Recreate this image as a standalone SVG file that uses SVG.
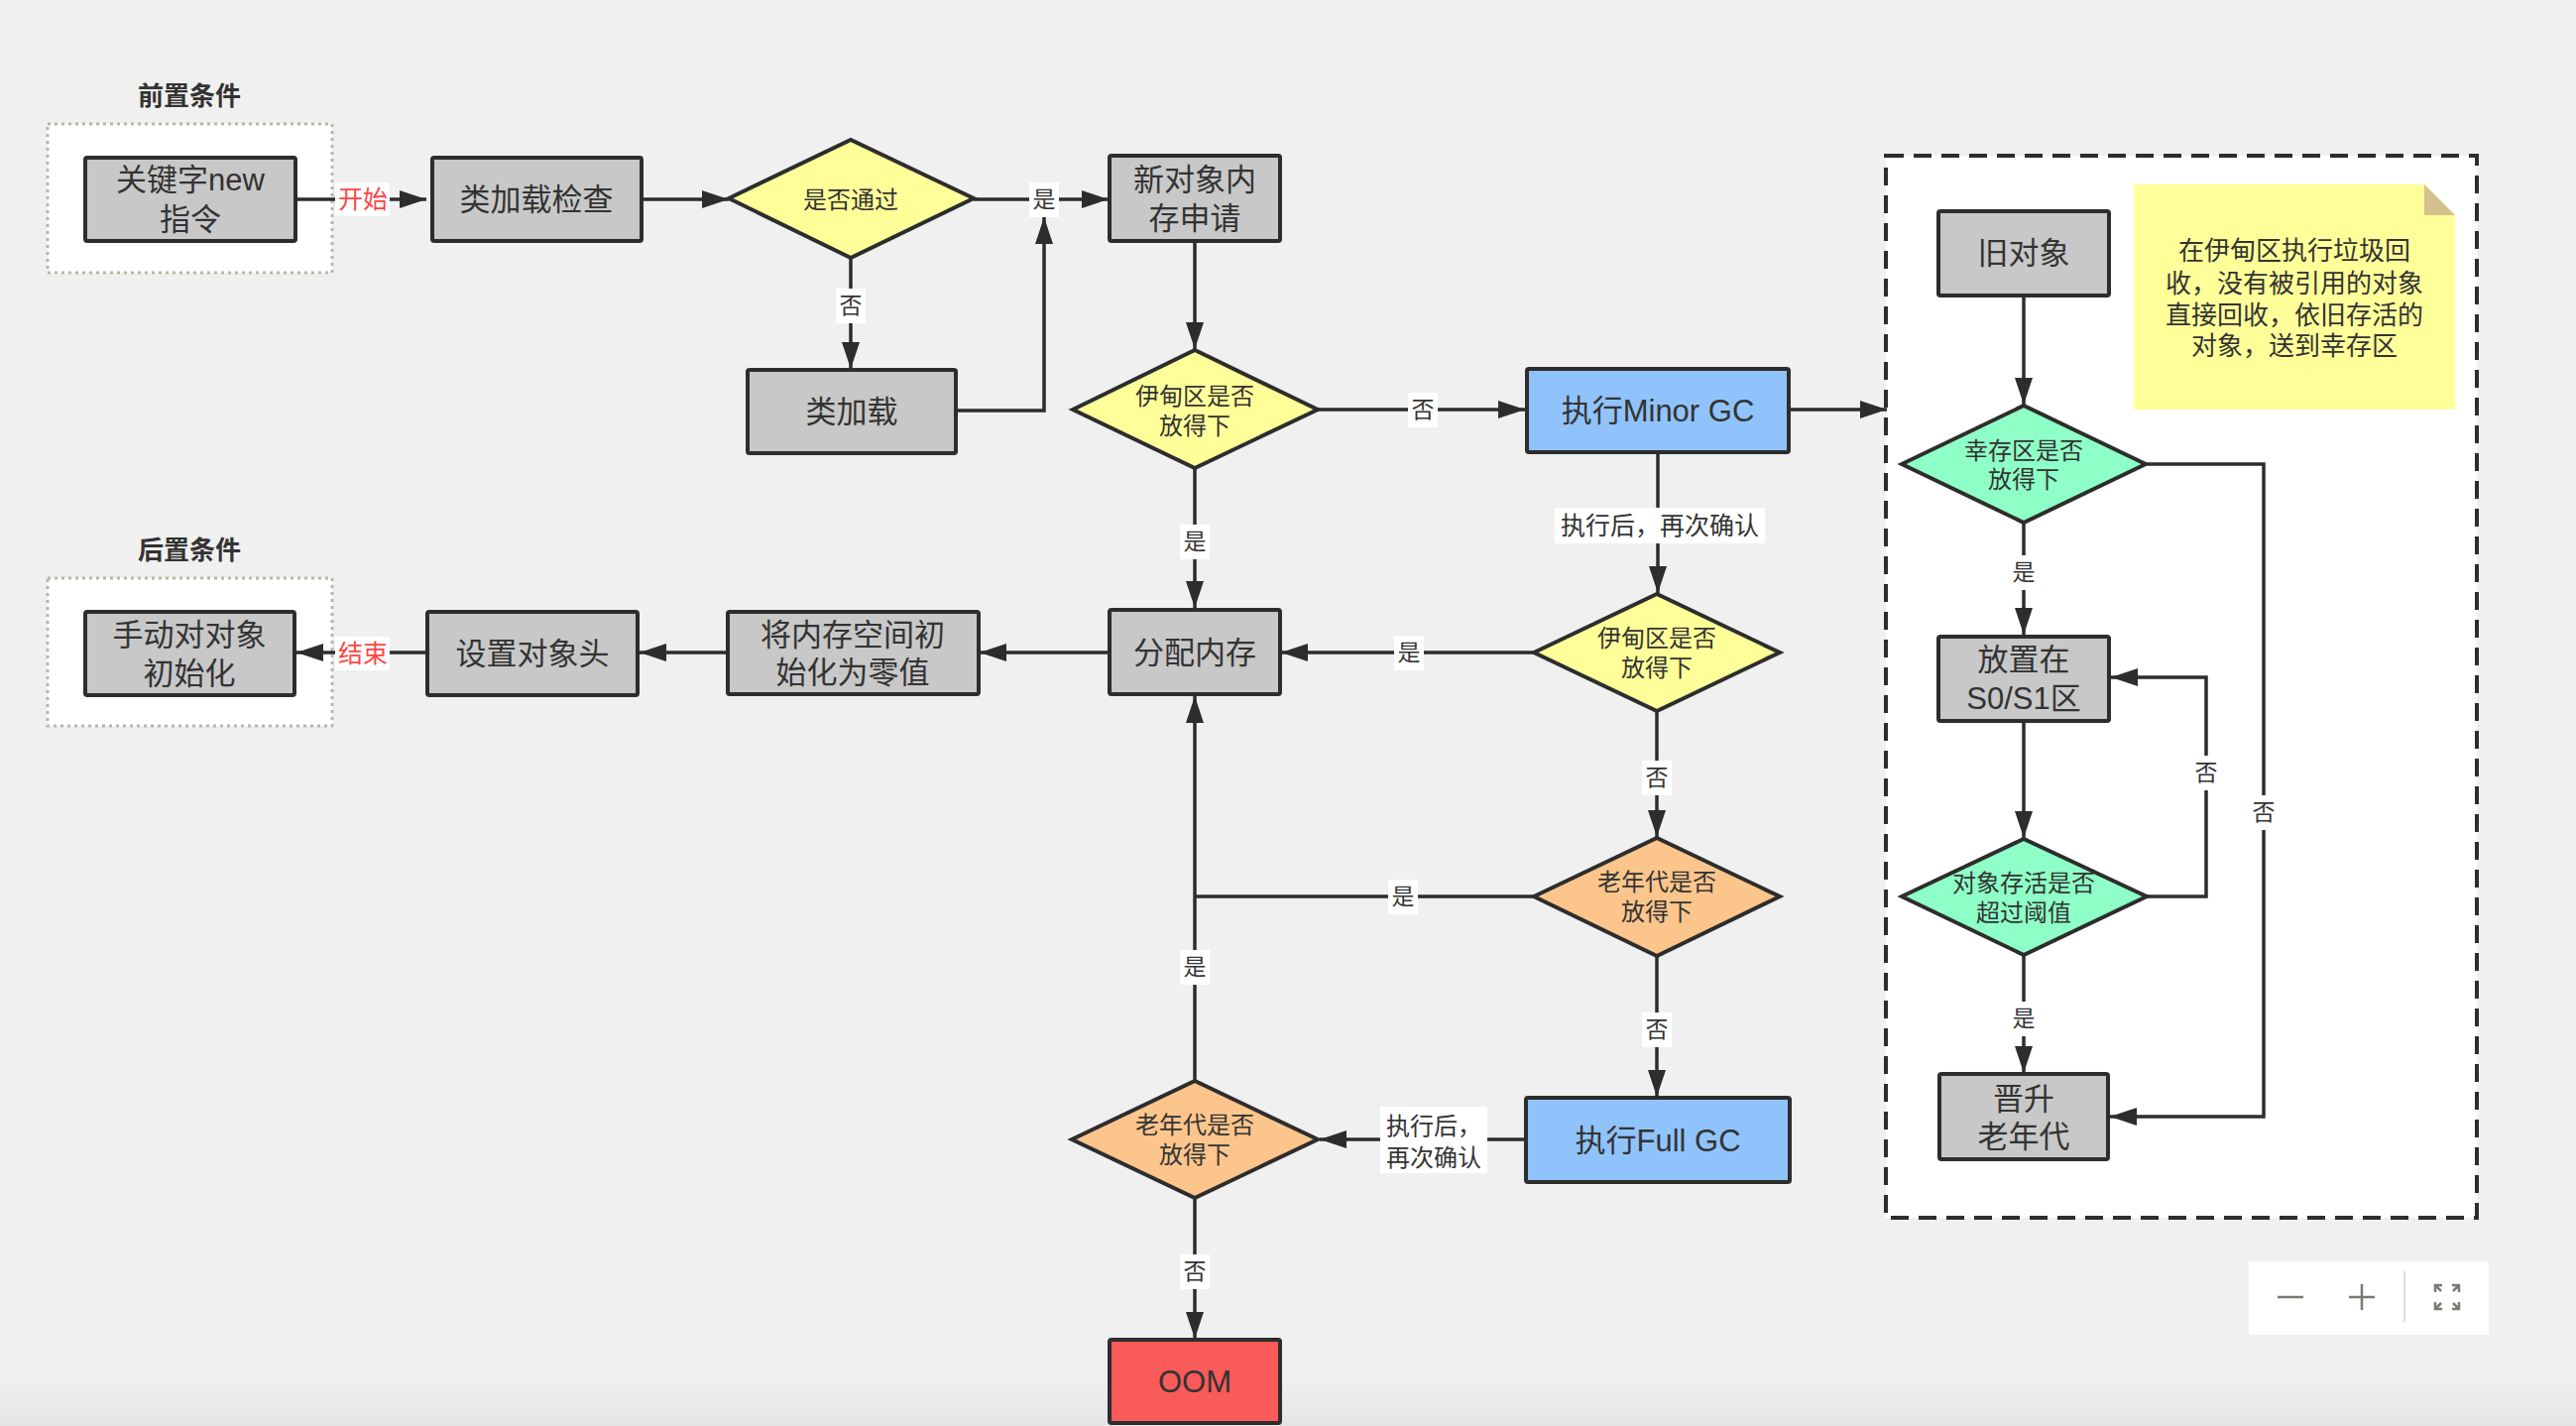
<svg xmlns="http://www.w3.org/2000/svg" width="2598" height="1438" viewBox="0 0 2598 1438">
<defs>
<marker id="ah" markerUnits="userSpaceOnUse" markerWidth="28" markerHeight="20" refX="27" refY="9" orient="auto">
<path d="M0,0 L27,9 L0,18 Z" fill="#2d2d2d"/>
</marker>
<linearGradient id="shade" x1="0" y1="0" x2="0" y2="1">
<stop offset="0" stop-color="#000" stop-opacity="0"/>
<stop offset="1" stop-color="#000" stop-opacity="0.05"/>
</linearGradient>
</defs>
<style>
.box{fill:#c8c8c8;stroke:#2d2d2d;stroke-width:4}
.blue{fill:#90c3fb}
.red{fill:#f95a5a}
.dia{stroke:#2d2d2d;stroke-width:4;stroke-linejoin:miter}
.yel{fill:#ffff99}
.org{fill:#fcc58c}
.grn{fill:#8effc6}
.t{font-family:"Liberation Sans","Noto Sans CJK SC",sans-serif;fill:#333;text-anchor:middle;dominant-baseline:central}
.big{font-size:31px}
.mid{font-size:24px}
.lab{font-size:23px}
.note{font-size:26px}
.ttl{font-size:26px;font-weight:bold}
.redt{fill:#ff4444;font-size:25px}
.edge{fill:none;stroke:#2d2d2d;stroke-width:3.5}
.arr{marker-end:url(#ah)}
.lbg{fill:#fff}
.cont{fill:#fff;stroke:#b8b8a8;stroke-width:3;stroke-dasharray:3 4}
.ui{stroke:#7a7a72;stroke-width:2.5;fill:none}
</style>
<rect width="2598" height="1438" fill="#f0f0f0"/>
<rect x="0" y="1390" width="2598" height="48" fill="url(#shade)"/>

<g id="pre-conditions">
<text class="t ttl" x="191" y="97">前置条件</text>
<rect class="cont" x="48" y="125" width="287" height="150"/>
</g>
<g id="post-conditions">
<text class="t ttl" x="191" y="555">后置条件</text>
<rect class="cont" x="48" y="583" width="287" height="149"/>
</g>
<g id="survivor-area">
<rect x="1902" y="157" width="596" height="1071" fill="#fff" stroke="#2d2d2d" stroke-width="4" stroke-dasharray="18 10"/>
</g>
<g id="note">
<path d="M2152,186 H2445 L2476,217 V413 H2152 Z" fill="#ffff99"/>
<path d="M2445,186 L2476,217 H2445 Z" fill="#d4bf8e"/>
<text class="t note" x="2314" y="253">在伊甸区执行垃圾回</text>
<text class="t note" x="2314" y="286">收，没有被引用的对象</text>
<text class="t note" x="2314" y="318">直接回收，依旧存活的</text>
<text class="t note" x="2314" y="349">对象，送到幸存区</text>
</g>

<g id="connectors">
<path class="edge arr" d="M298,201 H430"/>
<path class="edge arr" d="M647,201 H735"/>
<path class="edge arr" d="M982,201 H1118"/>
<path class="edge arr" d="M858,260 V372"/>
<path class="edge arr" d="M964,414 H1053 V219"/>
<path class="edge arr" d="M1205,243 V352"/>
<path class="edge arr" d="M1329,413 H1538"/>
<path class="edge arr" d="M1804,413 H1903"/>
<path class="edge arr" d="M1672,456 V598"/>
<path class="edge arr" d="M1205,472 V613"/>
<path class="edge arr" d="M1547,658 H1292"/>
<path class="edge arr" d="M1119,658 H988"/>
<path class="edge arr" d="M734,658 H645"/>
<path class="edge arr" d="M431,658 H299"/>
<path class="edge arr" d="M1671,717 V844"/>
<path class="edge" d="M1547,904 H1205"/>
<path class="edge arr" d="M1671,964 V1106"/>
<path class="edge arr" d="M1539,1149 H1331"/>
<path class="edge arr" d="M1205,1090 V702"/>
<path class="edge arr" d="M1205,1208 V1350"/>
<path class="edge arr" d="M2041,298 V408"/>
<path class="edge arr" d="M2164,468 H2283 V1126 H2128"/>
<path class="edge arr" d="M2041,527 V640"/>
<path class="edge arr" d="M2041,727 V845"/>
<path class="edge arr" d="M2165,904 H2225 V683 H2129"/>
<path class="edge arr" d="M2041,963 V1082"/>
<g id="edge-labels">
<rect class="lbg" x="338" y="184" width="55" height="34"/>
<text class="t redt" x="366" y="201">开始</text>
<rect class="lbg" x="338" y="642" width="55" height="34"/>
<text class="t redt" x="366" y="659">结束</text>
<rect class="lbg" x="1038" y="184" width="30" height="35"/>
<text class="t lab" x="1053" y="201">是</text>
<rect class="lbg" x="843" y="291" width="30" height="35"/>
<text class="t lab" x="858" y="308">否</text>
<rect class="lbg" x="1420" y="396" width="30" height="35"/>
<text class="t lab" x="1435" y="413">否</text>
<rect class="lbg" x="1568" y="512" width="212" height="36"/>
<text class="t mid" x="1674" y="530" style="font-size:25px">执行后，再次确认</text>
<rect class="lbg" x="1190" y="529" width="30" height="35"/>
<text class="t lab" x="1205" y="546">是</text>
<rect class="lbg" x="1406" y="641" width="30" height="35"/>
<text class="t lab" x="1421" y="658">是</text>
<rect class="lbg" x="1656" y="767" width="30" height="35"/>
<text class="t lab" x="1671" y="784">否</text>
<rect class="lbg" x="1400" y="887" width="30" height="35"/>
<text class="t lab" x="1415" y="904">是</text>
<rect class="lbg" x="1656" y="1021" width="30" height="35"/>
<text class="t lab" x="1671" y="1038">否</text>
<rect class="lbg" x="1392" y="1116" width="108" height="67"/>
<text class="t mid" x="1446" y="1135">执行后，</text>
<text class="t mid" x="1446" y="1167">再次确认</text>
<rect class="lbg" x="1190" y="958" width="30" height="35"/>
<text class="t lab" x="1205" y="975">是</text>
<rect class="lbg" x="1190" y="1265" width="30" height="35"/>
<text class="t lab" x="1205" y="1282">否</text>
<rect class="lbg" x="2268" y="802" width="30" height="35"/>
<text class="t lab" x="2283" y="819">否</text>
<rect class="lbg" x="2026" y="560" width="30" height="35"/>
<text class="t lab" x="2041" y="577">是</text>
<rect class="lbg" x="2210" y="762" width="30" height="35"/>
<text class="t lab" x="2225" y="779">否</text>
<rect class="lbg" x="2026" y="1010" width="30" height="35"/>
<text class="t lab" x="2041" y="1027">是</text>
</g>
</g>

<g id="n-keyword">
<rect class="box" x="86" y="159" width="212" height="84" rx="2"/>
<text class="t big" x="192" y="181">关键字new</text>
<text class="t big" x="192" y="221">指令</text>
</g>
<g id="n-classcheck">
<rect class="box" x="436" y="159" width="211" height="84" rx="2"/>
<text class="t big" x="541" y="201">类加载检查</text>
</g>
<g id="d-pass">
<polygon class="dia yel" points="735,200 858,141 982,200 858,260"/>
<text class="t mid" x="858" y="201">是否通过</text>
</g>
<g id="n-classload">
<rect class="box" x="754" y="373" width="210" height="84" rx="2"/>
<text class="t big" x="859" y="415">类加载</text>
</g>
<g id="n-newobj">
<rect class="box" x="1119" y="157" width="172" height="86" rx="2"/>
<text class="t big" x="1205" y="181">新对象内</text>
<text class="t big" x="1205" y="220">存申请</text>
</g>
<g id="d-eden1">
<polygon class="dia yel" points="1082,413 1205,353 1329,413 1205,472"/>
<text class="t mid" x="1205" y="399">伊甸区是否</text>
<text class="t mid" x="1205" y="429">放得下</text>
</g>
<g id="n-minorgc">
<rect class="box blue" x="1540" y="372" width="264" height="84" rx="2"/>
<text class="t big" x="1672" y="414">执行Minor GC</text>
</g>
<g id="d-eden2">
<polygon class="dia yel" points="1547,658 1671,599 1795,658 1671,717"/>
<text class="t mid" x="1671" y="643">伊甸区是否</text>
<text class="t mid" x="1671" y="673">放得下</text>
</g>
<g id="n-alloc">
<rect class="box" x="1119" y="615" width="172" height="85" rx="2"/>
<text class="t big" x="1205" y="658">分配内存</text>
</g>
<g id="n-zero">
<rect class="box" x="734" y="617" width="253" height="83" rx="2"/>
<text class="t big" x="860" y="640">将内存空间初</text>
<text class="t big" x="860" y="678">始化为零值</text>
</g>
<g id="n-header">
<rect class="box" x="431" y="617" width="212" height="84" rx="2"/>
<text class="t big" x="537" y="659">设置对象头</text>
</g>
<g id="n-manual">
<rect class="box" x="86" y="617" width="211" height="84" rx="2"/>
<text class="t big" x="191" y="640">手动对对象</text>
<text class="t big" x="191" y="679">初始化</text>
</g>
<g id="d-old1">
<polygon class="dia org" points="1547,904 1671,845 1795,904 1671,964"/>
<text class="t mid" x="1671" y="889">老年代是否</text>
<text class="t mid" x="1671" y="919">放得下</text>
</g>
<g id="n-fullgc">
<rect class="box blue" x="1539" y="1107" width="266" height="85" rx="2"/>
<text class="t big" x="1672" y="1150">执行Full GC</text>
</g>
<g id="d-old2">
<polygon class="dia org" points="1081,1149 1205,1090 1329,1149 1205,1208"/>
<text class="t mid" x="1205" y="1134">老年代是否</text>
<text class="t mid" x="1205" y="1164">放得下</text>
</g>
<g id="n-oom">
<rect class="box red" x="1119" y="1351" width="172" height="84" rx="2"/>
<text class="t big" x="1205" y="1393">OOM</text>
</g>
<g id="n-old">
<rect class="box" x="1955" y="213" width="172" height="85" rx="2"/>
<text class="t big" x="2041" y="255">旧对象</text>
</g>
<g id="d-surv">
<polygon class="dia grn" points="1918,468 2041,409 2164,468 2041,527"/>
<text class="t mid" x="2041" y="454">幸存区是否</text>
<text class="t mid" x="2041" y="483">放得下</text>
</g>
<g id="n-s0s1">
<rect class="box" x="1955" y="642" width="172" height="85" rx="2"/>
<text class="t big" x="2041" y="665">放置在</text>
<text class="t big" x="2041" y="704">S0/S1区</text>
</g>
<g id="d-age">
<polygon class="dia grn" points="1918,904 2041,846 2165,904 2041,963"/>
<text class="t mid" x="2041" y="890">对象存活是否</text>
<text class="t mid" x="2041" y="920">超过阈值</text>
</g>
<g id="n-promote">
<rect class="box" x="1956" y="1083" width="170" height="86" rx="2"/>
<text class="t big" x="2041" y="1108">晋升</text>
<text class="t big" x="2041" y="1146">老年代</text>
</g>

<g id="zoom-controls">
<rect x="2268" y="1272" width="242" height="74" fill="#fff"/>
<path class="ui" d="M2297,1308 H2323"/>
<path class="ui" d="M2369,1308 H2395 M2382,1295 V1321"/>
<path d="M2425,1282 V1333" stroke="#dcdcdc" stroke-width="2"/>
<path class="ui" d="M2456,1303 V1296 H2463 M2456,1296 L2462,1302 M2480,1303 V1296 H2473 M2480,1296 L2474,1302 M2456,1313 V1320 H2463 M2456,1320 L2462,1314 M2480,1313 V1320 H2473 M2480,1320 L2474,1314"/>
</g>
</svg>
